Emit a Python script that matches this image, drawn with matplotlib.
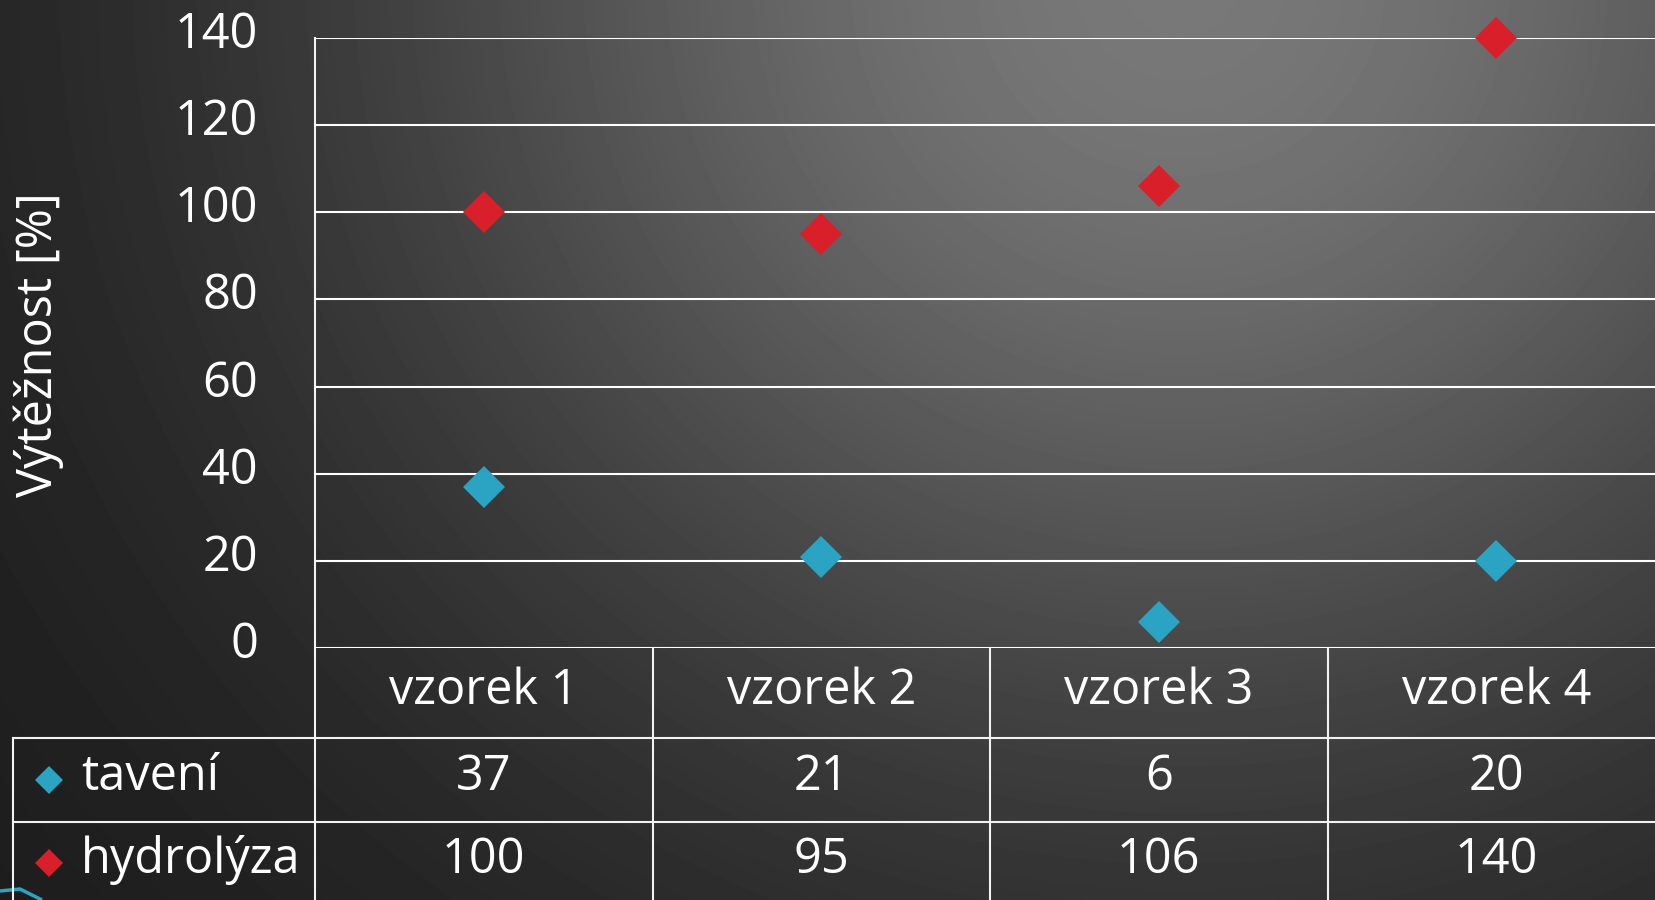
import numpy as np
import matplotlib
matplotlib.use('Agg')
import matplotlib.pyplot as plt
from matplotlib import transforms as mtrans

# ---- data ----
categories = ['vzorek 1', 'vzorek 2', 'vzorek 3', 'vzorek 4']
taveni = [37, 21, 6, 20]
hydrolyza = [100, 95, 106, 140]
series_names = ['tavení', 'hydrolýza']
yticks = [0, 20, 40, 60, 80, 100, 120, 140]
ylabel = 'Výtěžnost [%]'

TEAL = '#2BA3C2'
RED = '#D81F2A'
LINE = '#f2f2f2'
FONT = 'Open Sans'
FS = 35

W, H = 1655, 900
fig = plt.figure(figsize=(W / 100, H / 100), dpi=100)

# ---- background (pixel coordinate canvas, y downwards) ----
bg = fig.add_axes([0, 0, 1, 1], zorder=-10)
yy, xx = np.mgrid[0:H, 0:W]
d = np.hypot(xx - 1180, (yy + 20) * 1.05)
v = 26 + 94 * np.exp(-(d / 840) ** 2)
bg.imshow(v, cmap='gray', vmin=0, vmax=255, extent=[0, W, H, 0],
          aspect='auto', interpolation='bilinear')
bg.set_xlim(0, W)
bg.set_ylim(H, 0)
bg.axis('off')

# decorative teal stripe bottom-left
bg.plot([0, 20, 42], [891, 889, 900], color=TEAL, lw=2.5, solid_capstyle='butt')

# ---- main axes ----
ax_left, ax_top, ax_bottom = 315, 38, 648
cat_w = 337.5
ax = fig.add_axes([ax_left / W, (H - ax_bottom) / H,
                   cat_w * len(categories) / W, (ax_bottom - ax_top) / H])
ax.set_facecolor('none')
ax.set_xlim(-0.5, len(categories) - 0.5)
ax.set_ylim(0, 140)
ax.set_yticks(yticks)
ax.set_yticklabels([])
ax.set_xticks([])
ax.tick_params(length=0)
ax.yaxis.grid(True, color='white', lw=1.5)
ax.set_axisbelow(True)
for s in ax.spines.values():
    s.set_visible(False)

x = np.arange(len(categories))
ax.plot(x, taveni, 'D', color=TEAL, ms=21, mew=0, clip_on=False, zorder=3)
ax.plot(x, hydrolyza, 'D', color=RED, ms=21, mew=0, clip_on=False, zorder=3)

# y tick labels
off = mtrans.ScaledTranslation(0, -0.10, fig.dpi_scale_trans)
ytrans = mtrans.blended_transform_factory(bg.transData, ax.transData) + off
for t in yticks:
    ax.text(258, t, str(t), transform=ytrans, ha='right', va='baseline',
            color='white', fontsize=FS, family=FONT)

# y label
bg.text(39, 345, ylabel, rotation=90, ha='center', va='center',
        color='white', fontsize=FS, family=FONT)

# ---- data table ----
row_header_bottom = 738
row1_bottom = 822
bg.plot([ax_left, ax_left], [ax_top, H], color=LINE, lw=1.5)
bg.plot([13, W], [row_header_bottom, row_header_bottom], color=LINE, lw=1.5)
bg.plot([13, W], [row1_bottom, row1_bottom], color=LINE, lw=1.5)
bg.plot([13, 13], [row_header_bottom, H], color=LINE, lw=1.5)
ctrans = mtrans.blended_transform_factory(ax.transData, bg.transData)
for b in np.arange(0.5, len(categories) - 0.5, 1.0):
    ax.plot([b, b], [ax_bottom, H], color=LINE, lw=1.5, transform=ctrans,
            clip_on=False)

for i, c in enumerate(categories):
    ax.text(i, 704, c, transform=ctrans, ha='center', va='baseline',
            color='white', fontsize=FS, family=FONT)
for i, val in enumerate(taveni):
    ax.text(i, 790, str(val), transform=ctrans, ha='center', va='baseline',
            color='white', fontsize=FS, family=FONT)
for i, val in enumerate(hydrolyza):
    ax.text(i, 873, str(val), transform=ctrans, ha='center', va='baseline',
            color='white', fontsize=FS, family=FONT)

for name, col, yb, ym in [(series_names[0], TEAL, 790, 780),
                          (series_names[1], RED, 873, 863)]:
    bg.plot([49], [ym], 'D', color=col, ms=14, mew=0)
    bg.text(81, yb, name, ha='left', va='baseline', color='white',
            fontsize=FS, family=FONT)

fig.savefig('out.png', dpi=100)
